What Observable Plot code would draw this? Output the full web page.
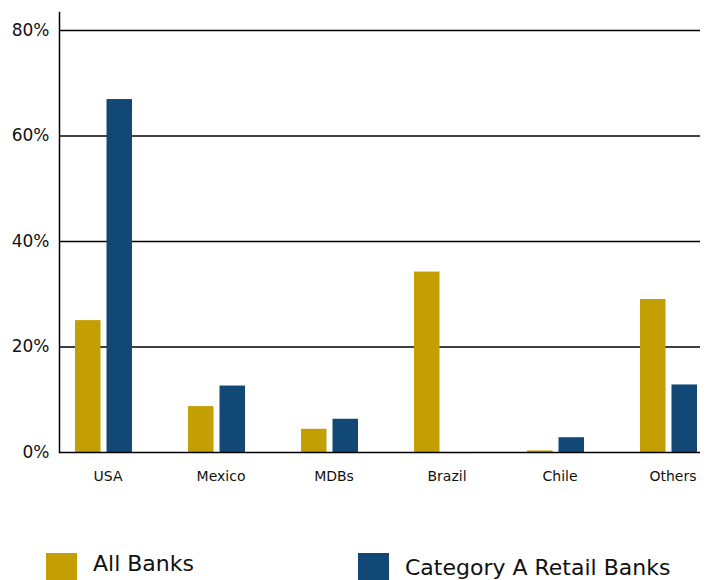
<!DOCTYPE html>
<html>
<head>
<meta charset="utf-8">
<script src="https://cdn.jsdelivr.net/npm/d3@7"></script>
<script src="https://cdn.jsdelivr.net/npm/@observablehq/plot@0.6"></script>
<style>
  body { margin: 0; background: #fff; font-family: "DejaVu Sans", Verdana, sans-serif; }
  #wrap { position: relative; width: 715px; height: 580px; overflow: hidden; }
  .leg { position: absolute; display: flex; align-items: flex-start; font-size: 22px; color: #111; white-space: nowrap; }
  .sw { width: 31px; height: 31px; margin-right: 16px; }
</style>
</head>
<body>
<div id="wrap">
  <div id="chart"></div>
  <div class="leg" style="left:46px; top:553px;"><div class="sw" style="background:#C49F04"></div><span style="margin-top:-2px">All Banks</span></div>
  <div class="leg" style="left:358px; top:553px;"><div class="sw" style="background:#124875"></div><span style="margin-top:2px">Category A Retail Banks</span></div>
</div>
<script>
const categories = ["USA", "Mexico", "MDBs", "Brazil", "Chile", "Others"];
const allBanks = [25.0, 8.7, 4.4, 34.2, 0.3, 29.0];
const categoryA = [66.9, 12.6, 6.3, -0.2, 2.8, 12.8];
const yTicks = [0, 20, 40, 60, 80];
const colors = {all: "#C49F04", catA: "#124875"};

const rows = categories.map((c, i) => ({category: c, all: allBanks[i], catA: categoryA[i]}));

const chart = Plot.plot({
  width: 715,
  height: 520,
  marginLeft: 59,
  marginRight: 3,
  marginTop: 12,
  marginBottom: 68,
  style: {fontFamily: "DejaVu Sans, Verdana, sans-serif", background: "#fff"},
  x: {domain: categories, paddingInner: 0.5, paddingOuter: 0.123, label: null},
  y: {domain: [0, 83.4], label: null},
  marks: [
    Plot.ruleY(yTicks.filter(d => d > 0), {stroke: "#000", strokeWidth: 1.5, insetRight: 12}),
    Plot.barY(rows, {x: "category", y: "all", fill: colors.all, insetRight: 31.5}),
    Plot.barY(rows, {x: "category", y: "catA", fill: colors.catA, insetLeft: 31.5}),
    Plot.ruleY([0], {stroke: "#000", strokeWidth: 1.5, insetRight: 12}),
    Plot.frame({anchor: "left", stroke: "#000", strokeWidth: 1.5}),
    Plot.axisY({ticks: yTicks, tickFormat: d => d + "%", tickSize: 0, tickPadding: 10, fontSize: 17, fill: "#111", label: null}),
    Plot.axisX({tickSize: 0, tickPadding: 19, fontSize: 14, fill: "#111", dx: 4, label: null})
  ]
});
document.getElementById("chart").appendChild(chart);
</script>
</body>
</html>
